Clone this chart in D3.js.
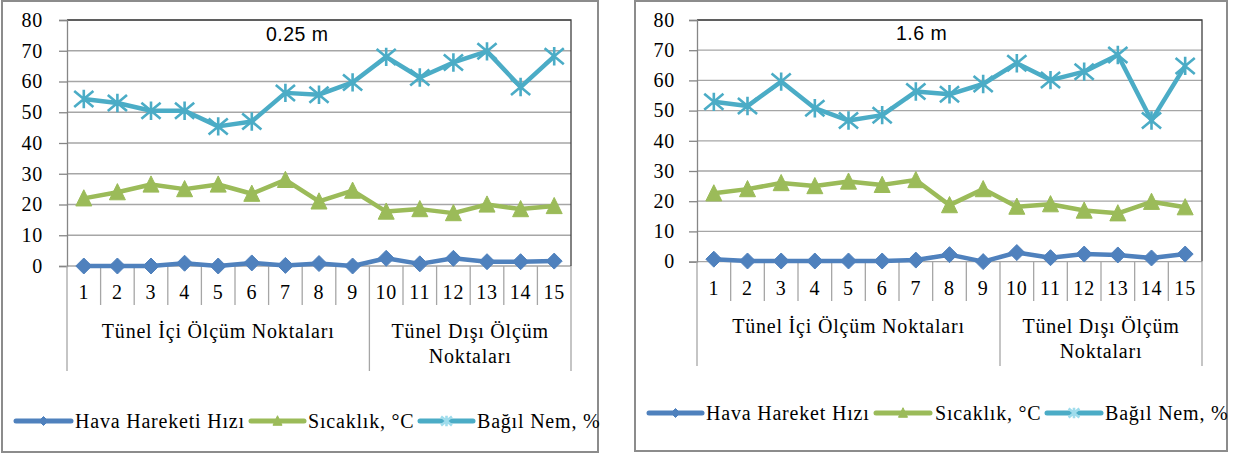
<!DOCTYPE html>
<html>
<head>
<meta charset="utf-8">
<script src="https://cdn.jsdelivr.net/npm/d3@7/dist/d3.min.js"></script>
<style>
html,body{margin:0;padding:0;background:#fff;}
svg{display:block;}
</style>
</head>
<body>
<svg id="chart" width="1233" height="455"></svg>
<script>
// ---------- DATA ----------
const categories = ["1","2","3","4","5","6","7","8","9","10","11","12","13","14","15"];
const groupLabels = [["Tünel İçi Ölçüm Noktaları"], ["Tünel Dışı Ölçüm", "Noktaları"]];
const groupSizes = [9, 6];
const yTicks = [0, 10, 20, 30, 40, 50, 60, 70, 80];

const title025 = "0.25 m";
const hiz025 = [0, 0, 0, 0.9, 0, 1, 0.2, 0.8, 0, 2.5, 0.7, 2.5, 1.4, 1.4, 1.6];
const sicaklik025 = [22, 24, 26.5, 25, 26.5, 23.5, 28, 21, 24.5, 17.7, 18.5, 17.2, 20, 18.5, 19.5];
const nem025 = [54.3, 53, 50.5, 50.5, 45.4, 47, 56.3, 55.7, 59.7, 68, 61.3, 66.2, 69.8, 58.2, 68.2];
const legend025 = ["Hava Hareketi Hızı", "Sıcaklık, °C", "Bağıl Nem, %"];

const title16 = "1.6 m";
const hiz16 = [0.8, 0.2, 0.2, 0.2, 0.2, 0.2, 0.5, 2.3, 0, 3, 1.3, 2.5, 2.2, 1.2, 2.5];
const sicaklik16 = [22.6, 24, 26, 25, 26.5, 25.4, 27, 18.7, 24, 18.2, 19, 16.9, 16, 19.8, 18];
const nem16 = [52.9, 51.5, 59.6, 50.8, 46.7, 48.5, 56.3, 55.4, 58.8, 65.7, 60.1, 62.9, 68.4, 46.7, 64.8];
const legend16 = ["Hava Hareket Hızı", "Sıcaklık, °C", "Bağıl Nem, %"];

// ---------- STYLE ----------
const colors = ["#4F81BD", "#9BBB59", "#4BACC6"];
const markers = ["diamond", "triangle", "star"];

const svg = d3.select("#chart");

function stext(g, x, y, str, opts) {
  opts = opts || {};
  return g.append("text")
    .attr("x", x).attr("y", y)
    .attr("text-anchor", opts.anchor || "start")
    .style("font-family", opts.sans ? "Liberation Sans" : "Liberation Serif")
    .style("font-size", (opts.size || 20) + "px")
    .style("letter-spacing", (opts.ls == null ? 0.8 : opts.ls) + "px")
    .attr("fill", "#000")
    .text(str);
}

function markerPath(type, s) {
  if (type === "diamond") {
    return `M0,${-s}L${s},0L0,${s}L${-s},0Z`;
  } else if (type === "triangle") {
    const h = s * 1.9;
    return `M0,${-h/2 - 1}L${s},${h/2}L${-s},${h/2}Z`;
  } else {
    const rx = s * 1.2, ry = s;
    return `M${-rx},${-ry}L${rx},${ry}M${-rx},${ry}L${rx},${-ry}M0,${-s * 1.15}L0,${s * 1.15}`;
  }
}

function drawMarker(g, type, x, y, color, s) {
  const p = g.append("path")
    .attr("transform", `translate(${x},${y})`)
    .attr("d", markerPath(type, s));
  if (type === "star") {
    p.attr("fill", "none").attr("stroke", color).attr("stroke-width", 2.6);
  } else {
    p.attr("fill", color).attr("stroke", color).attr("stroke-width", 1);
  }
}

function drawChart(cfg) {
  const g = svg.append("g");
  g.append("rect")
    .attr("x", cfg.frame[0]).attr("y", cfg.frame[1])
    .attr("width", cfg.frame[2]).attr("height", cfg.frame[3])
    .attr("fill", "#fff").attr("stroke", "#8c8c8c").attr("stroke-width", 2);

  const x = d3.scaleBand().domain(categories).range([cfg.px0, cfg.px1]).padding(0);
  const y = d3.scaleLinear().domain([0, 80]).range([cfg.py0, cfg.py1]);
  const bw = x.bandwidth();

  g.append("g").selectAll("line").data(yTicks).join("line")
    .attr("x1", cfg.px0).attr("x2", cfg.px1)
    .attr("y1", d => y(d)).attr("y2", d => y(d))
    .attr("stroke", "#a6a6a6").attr("stroke-width", 1.3);

  g.append("path")
    .attr("d", `M${cfg.px0},${y(80)}H${cfg.px1}V${y(0)}`)
    .attr("fill", "none").attr("stroke", "#404040").attr("stroke-width", 1.3);

  const yAxis = d3.axisLeft(y).tickValues(yTicks).tickSize(cfg.px0 - cfg.tickX).tickPadding(0).tickFormat(d3.format("d"));
  const ya = g.append("g").attr("transform", `translate(${cfg.px0},0)`).call(yAxis);
  ya.select(".domain").attr("stroke", "#868686").attr("stroke-width", 1.3);
  ya.selectAll(".tick line").attr("stroke", "#868686").attr("stroke-width", 1.3);
  ya.selectAll(".tick text").remove();
  yTicks.forEach(t => stext(g, cfg.yLabelRight, y(t) + 6.8, String(t), {anchor: "end", ls: 0.8}));

  const bounds = categories.map(c => x(c)).concat([cfg.px1]);
  let cum = 0;
  const groupBounds = [0];
  groupSizes.forEach(n => { cum += n; groupBounds.push(cum); });
  bounds.forEach((bx, i) => {
    const isGroup = groupBounds.includes(i);
    g.append("line")
      .attr("x1", bx).attr("x2", bx)
      .attr("y1", y(0)).attr("y2", isGroup ? cfg.groupSepBottom : cfg.catSepBottom)
      .attr("stroke", "#a6a6a6").attr("stroke-width", 1.3);
  });
  categories.forEach(c => stext(g, x(c) + bw / 2, cfg.catBaseline, c, {anchor: "middle", ls: 0.8}));
  groupLabels.forEach((lines, gi) => {
    const cx = cfg.px0 + (groupBounds[gi] + groupBounds[gi + 1]) / 2 * bw;
    lines.forEach((ln, li) => stext(g, cx, cfg.groupBaseline + li * cfg.groupLineH, ln, {anchor: "middle"}));
  });

  const line = d3.line().x((d, i) => x(categories[i]) + bw / 2).y(d => y(d));
  cfg.series.forEach((vals, si) => {
    g.append("path").datum(vals)
      .attr("d", line)
      .attr("fill", "none")
      .attr("stroke", colors[si])
      .attr("stroke-width", 4.5)
      .attr("stroke-linejoin", "round");
    vals.forEach((v, i) => drawMarker(g, markers[si], x(categories[i]) + bw / 2, y(v), colors[si], 8));
  });

  stext(g, cfg.titleX, cfg.titleY, cfg.title, {sans: true, size: 19.5, ls: 0.5});

  cfg.legend.forEach((lab, i) => {
    const [l0, l1, tx] = cfg.legendPos[i];
    g.append("line")
      .attr("x1", l0).attr("x2", l1)
      .attr("y1", cfg.legendY).attr("y2", cfg.legendY)
      .attr("stroke", colors[i]).attr("stroke-width", 5).attr("stroke-linecap", "round");
    drawMarker(g, markers[i], (l0 + l1) / 2, cfg.legendY, i === 2 ? "#9fdcec" : colors[i], 4.5);
    stext(g, tx, cfg.legendY + 6.5, lab, {anchor: "start"});
  });
}

drawChart({
  frame: [2, 1, 596, 451],
  px0: 67, px1: 571, py0: 266, py1: 20,
  tickX: 59, yLabelRight: 43,
  catBaseline: 299, catSepBottom: 305,
  groupBaseline: 338, groupLineH: 25, groupSepBottom: 371,
  title: title025, titleX: 266, titleY: 40.5,
  series: [hiz025, sicaklik025, nem025],
  legend: legend025, legendY: 421,
  legendPos: [[16, 71, 75], [251, 304, 308], [420, 473, 477]]
});

drawChart({
  frame: [635, 1, 592, 450],
  px0: 697, px1: 1202, py0: 261.6, py1: 20,
  tickX: 689, yLabelRight: 675,
  catBaseline: 295, catSepBottom: 301,
  groupBaseline: 333, groupLineH: 25, groupSepBottom: 366,
  title: title16, titleX: 896, titleY: 40,
  series: [hiz16, sicaklik16, nem16],
  legend: legend16, legendY: 413,
  legendPos: [[649, 702, 706], [876, 930, 935], [1047, 1101, 1105]]
});
</script>
</body>
</html>
